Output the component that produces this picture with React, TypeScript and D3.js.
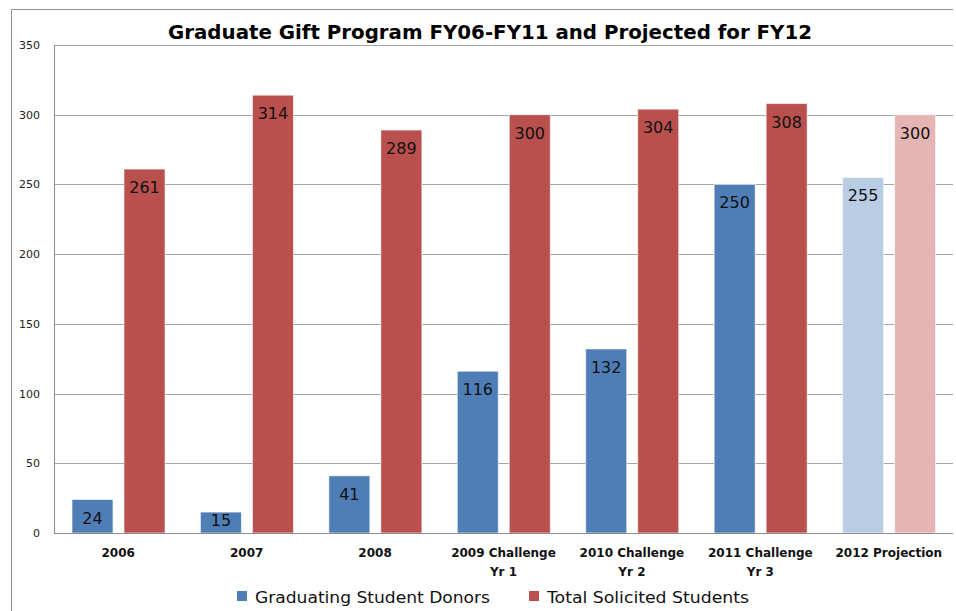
import React, { useEffect, useRef } from 'react';
import * as d3 from 'd3';

const categories = ['2006', '2007', '2008', '2009 Challenge|Yr 1', '2010 Challenge|Yr 2', '2011 Challenge|Yr 3', '2012 Projection'];
const donors = [24, 15, 41, 116, 132, 250, 255];
const solicited = [261, 314, 289, 300, 304, 308, 300];
const projected = [false, false, false, false, false, false, true];
const yTicks = [0, 50, 100, 150, 200, 250, 300, 350];

const App: React.FC = () => {
  const svgRef = useRef<SVGSVGElement>(null);

  useEffect(() => {
    if (!svgRef.current) return;
    const svg = d3.select(svgRef.current);
    svg.selectAll('*').remove();

    const height = 611;
    const left = 54, right = 953, top = 45, bottom = 533;
    const font = 'DejaVu Sans, Verdana, sans-serif';

    // frame
    svg.append('path')
      .attr('d', `M11.5,${height}V9.5H953`)
      .attr('fill', 'none')
      .attr('stroke', '#8c8c8c')
      .attr('stroke-width', 1);

    const x = d3.scaleBand<number>()
      .domain(d3.range(categories.length))
      .range([left, right]);

    const y = d3.scaleLinear().domain([0, 350]).range([bottom, top]);

    // gridlines
    svg.append('g')
      .selectAll('line')
      .data(yTicks.slice(1))
      .join('line')
      .attr('x1', left)
      .attr('x2', right)
      .attr('y1', d => Math.round(y(d)) + 0.5)
      .attr('y2', d => Math.round(y(d)) + 0.5)
      .attr('stroke', '#a6a6a6')
      .attr('stroke-width', 1);

    // y labels
    svg.append('g')
      .selectAll('text')
      .data(yTicks)
      .join('text')
      .attr('x', 40)
      .attr('y', d => y(d) + 4)
      .attr('text-anchor', 'end')
      .style('font-family', font)
      .style('font-size', '11px')
      .style('fill', '#222')
      .text(d => d);

    const bw = 41;
    const gap = 11;
    const off = 18;

    const colors = {
      donor: '#4f7db6',
      solicit: '#b9504e',
      donorLight: '#b8cce4',
      solicitLight: '#e5b5b4',
    };

    const bars = svg.append('g');
    categories.forEach((_, i) => {
      const x0 = x(i)! + off;
      const specs = [
        { v: donors[i], x: x0, c: projected[i] ? colors.donorLight : colors.donor },
        { v: solicited[i], x: x0 + bw + gap, c: projected[i] ? colors.solicitLight : colors.solicit },
      ];
      specs.forEach(s => {
        bars.append('rect')
          .attr('x', s.x)
          .attr('y', y(s.v))
          .attr('width', bw)
          .attr('height', bottom - y(s.v))
          .attr('fill', s.c)
          .attr('stroke', 'rgba(255,255,255,0.6)')
          .attr('stroke-width', 1);
        const cy = Math.min(y(s.v) + 18, bottom - 13);
        bars.append('text')
          .attr('x', s.x + bw / 2)
          .attr('y', cy + 6)
          .attr('text-anchor', 'middle')
          .style('font-family', font)
          .style('font-size', '16px')
          .style('fill', '#111')
          .text(s.v);
      });
    });

    // axes lines
    svg.append('line')
      .attr('x1', left + 0.5).attr('x2', left + 0.5)
      .attr('y1', top).attr('y2', bottom)
      .attr('stroke', '#8c8c8c');
    svg.append('line')
      .attr('x1', left).attr('x2', right)
      .attr('y1', bottom + 0.5).attr('y2', bottom + 0.5)
      .attr('stroke', '#8c8c8c');

    // x labels
    const xl = svg.append('g');
    categories.forEach((c, i) => {
      const cx = x(i)! + x.bandwidth() / 2;
      c.split('|').forEach((line, j) => {
        xl.append('text')
          .attr('x', cx)
          .attr('y', 557 + j * 19)
          .attr('text-anchor', 'middle')
          .style('font-family', font)
          .style('font-size', '12px')
          .style('font-weight', 'bold')
          .style('fill', '#111')
          .text(line);
      });
    });

    // title
    svg.append('text')
      .attr('x', 168)
      .attr('y', 39)
      .attr('textLength', 644)
      .attr('lengthAdjust', 'spacingAndGlyphs')
      .style('font-family', font)
      .style('font-size', '19.5px')
      .style('font-weight', 'bold')
      .style('fill', '#000')
      .text('Graduate Gift Program FY06-FY11 and Projected for FY12');

    // legend
    const legend = [
      { label: 'Graduating Student Donors', color: colors.donor, x: 237, w: 235 },
      { label: 'Total Solicited Students', color: colors.solicit, x: 529, w: 202 },
    ];
    legend.forEach(l => {
      svg.append('rect')
        .attr('x', l.x)
        .attr('y', 591)
        .attr('width', 10)
        .attr('height', 10)
        .attr('fill', l.color);
      svg.append('text')
        .attr('x', l.x + 18)
        .attr('y', 603)
        .attr('textLength', l.w)
        .attr('lengthAdjust', 'spacingAndGlyphs')
        .style('font-family', font)
        .style('font-size', '16px')
        .style('fill', '#111')
        .text(l.label);
    });
  }, []);

  return (
    <div style={{ position: 'absolute', left: 0, top: 0 }}>
      <svg ref={svgRef} width={956} height={611} style={{ display: 'block', background: '#fff' }} />
    </div>
  );
};

export default App;
